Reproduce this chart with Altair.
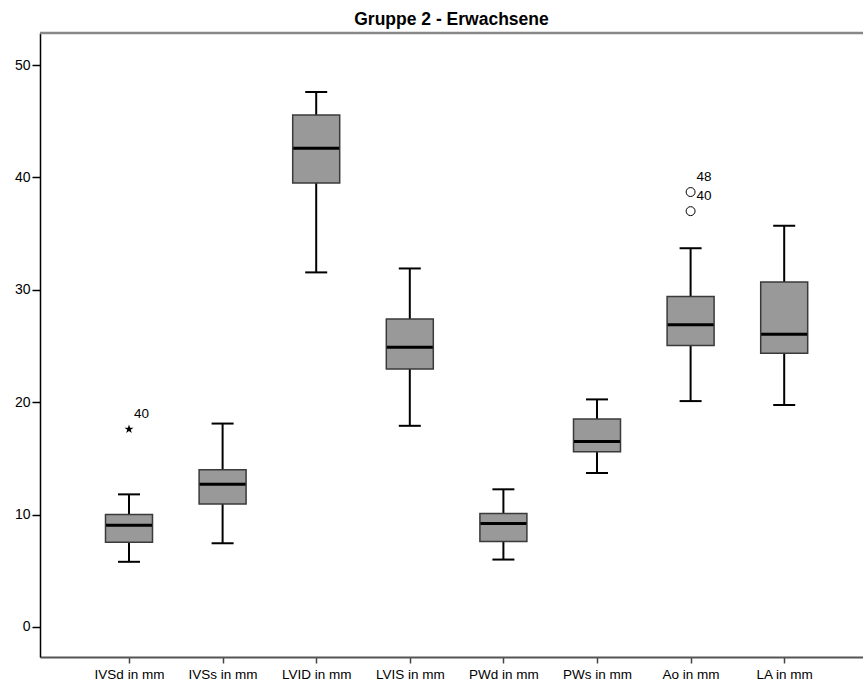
import altair as alt
import pandas as pd

# Echo measurements of group 2 (adults): box-plot summaries in mm
categories = ["IVSd in mm", "IVSs in mm", "LVID in mm", "LVIS in mm",
              "PWd in mm", "PWs in mm", "Ao in mm", "LA in mm"]
whisker_low = [5.8, 7.45, 31.55, 17.9, 6.0, 13.7, 20.1, 19.75]
q1 = [7.55, 10.95, 39.5, 22.95, 7.6, 15.6, 25.05, 24.35]
median = [9.05, 12.7, 42.6, 24.9, 9.2, 16.5, 26.9, 26.05]
q3 = [10.0, 14.0, 45.55, 27.4, 10.1, 18.5, 29.4, 30.7]
whisker_high = [11.8, 18.1, 47.6, 31.9, 12.25, 20.25, 33.7, 35.7]

# Extreme values (star) and outliers (circle) with their case numbers
extreme_cat = ["IVSd in mm"]
extreme_val = [17.6]
extreme_case = ["40"]
outlier_cat = ["Ao in mm", "Ao in mm"]
outlier_val = [38.7, 37.0]
outlier_case = ["48", "40"]
y_ticks = [0, 10, 20, 30, 40, 50]

W, H = 823, 624
FONT = "Liberation Sans"

boxes = pd.DataFrame({
    "cat": categories, "lo": whisker_low, "q1": q1,
    "med": median, "q3": q3, "hi": whisker_high,
})
extremes = pd.DataFrame({"cat": extreme_cat, "v": extreme_val, "case": extreme_case})
outliers = pd.DataFrame({"cat": outlier_cat, "v": outlier_val, "case": outlier_case})

x_scale = alt.Scale(type="point", padding=0.8964, align=0.5304)
y_scale = alt.Scale(domain=[-2.67, 52.85], nice=False, zero=False)


def X():
    return alt.X("cat:N", sort=categories, title=None, scale=x_scale)


def Y(field):
    return alt.Y(field, title=None, scale=y_scale, axis=alt.Axis(values=y_ticks))


base = alt.Chart(boxes)

whisker = base.mark_rule(color="black", strokeWidth=2).encode(
    x=X(), y=Y("lo:Q"), y2="hi:Q")
caps_lo = base.mark_tick(color="black", size=22, thickness=2, orient="horizontal",
                         opacity=1).encode(x=X(), y=Y("lo:Q"))
caps_hi = base.mark_tick(color="black", size=22, thickness=2, orient="horizontal",
                         opacity=1).encode(x=X(), y=Y("hi:Q"))
box = base.mark_bar(size=47, fill="#999999", stroke="#3a3a3a", strokeWidth=1.5,
                    opacity=1).encode(x=X(), y=Y("q1:Q"), y2="q3:Q")
med = base.mark_tick(color="black", size=46, thickness=3, orient="horizontal",
                     opacity=1).encode(x=X(), y=Y("med:Q"))

star_path = ("M0,-1L0.2245,-0.309L0.951,-0.309L0.3633,0.118L0.5878,0.809"
             "L0,0.382L-0.5878,0.809L-0.3633,0.118L-0.951,-0.309L-0.2245,-0.309Z")
star = alt.Chart(extremes).mark_point(shape=star_path, filled=True, color="black",
                                      size=90, opacity=1).encode(x=X(), y=Y("v:Q"))
star_lbl = alt.Chart(extremes).mark_text(align="left", baseline="middle", dx=5, dy=-15,
                                         font=FONT, fontSize=13.5, color="black").encode(
    x=X(), y=Y("v:Q"), text="case:N")

circ = alt.Chart(outliers).mark_point(shape="circle", filled=False, color="black",
                                      size=80, strokeWidth=1, opacity=1).encode(
    x=X(), y=Y("v:Q"))
circ_lbl = alt.Chart(outliers).mark_text(align="left", baseline="middle", dx=6, dy=-15,
                                         font=FONT, fontSize=13.5, color="black").encode(
    x=X(), y=Y("v:Q"), text="case:N")

# Top frame band of the plot area
frame_df = pd.DataFrame({"x0": [0]})
top_border = alt.Chart(frame_df).mark_rect(color="#888888", opacity=1).encode(
    x=alt.value(0), x2=alt.value(W), y=alt.value(-1.3), y2=alt.value(1.3))

chart = alt.layer(
    whisker, caps_lo, caps_hi, box, med, star, star_lbl, circ, circ_lbl, top_border
).properties(
    width=W, height=H,
    title=alt.TitleParams("Gruppe 2 - Erwachsene", font=FONT, fontSize=17.5,
                          fontWeight="bold", color="black", anchor="middle", offset=3),
    autosize=alt.AutoSizeParams(type="none"),
    padding={"left": 40, "top": 33, "right": 0, "bottom": 29},
).configure(
    background="white"
).configure_view(
    strokeWidth=0, stroke="transparent"
).configure_axis(
    grid=False, labelFont=FONT, labelColor="black"
).configure_axisX(
    labelAngle=0, labelFontSize=13.5, tickSize=6, tickColor="#444", tickWidth=1.5,
    labelPadding=4, domainColor="#555", domainWidth=2,
).configure_axisY(
    labelFontSize=14, tickSize=8, tickColor="black",
    tickWidth=1.5, labelPadding=2, domainColor="black", domainWidth=1.5,
)

chart.save("out.html", embed_options={"renderer": "svg", "actions": False})
